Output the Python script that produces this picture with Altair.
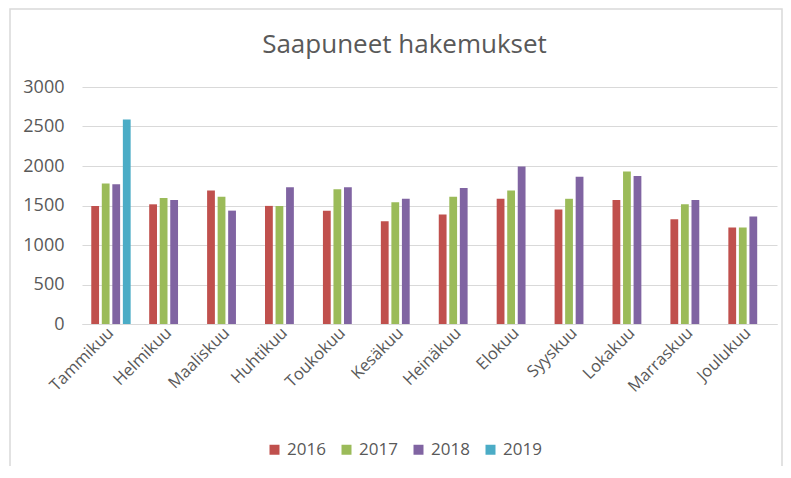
import altair as alt
import pandas as pd

months = ["Tammikuu", "Helmikuu", "Maaliskuu", "Huhtikuu", "Toukokuu", "Kesäkuu",
          "Heinäkuu", "Elokuu", "Syyskuu", "Lokakuu", "Marraskuu", "Joulukuu"]
years = ["2016", "2017", "2018", "2019"]
v2016 = [1495, 1515, 1690, 1495, 1435, 1300, 1385, 1585, 1450, 1570, 1325, 1220]
v2017 = [1780, 1595, 1610, 1495, 1705, 1540, 1610, 1690, 1585, 1930, 1515, 1220]
v2018 = [1770, 1570, 1435, 1730, 1730, 1585, 1720, 1995, 1865, 1875, 1570, 1360]
v2019 = [2590]  # only January

rows = []
for series, y in zip([v2016, v2017, v2018, v2019], years):
    for m, v in zip(months, series):
        rows.append({"Kuukausi": m, "Vuosi": y, "Hakemukset": v})
df = pd.DataFrame(rows)

colors = ["#C0504D", "#9BBB59", "#8064A2", "#4BACC6"]
FONT = "Open Sans"
GRAY = "#595959"

bars = alt.Chart(df).mark_bar().encode(
    x=alt.X("Kuukausi:N", sort=months, title=None,
            scale=alt.Scale(paddingInner=0.32, paddingOuter=0.16),
            axis=alt.Axis(labelAngle=-45, labelAlign="right", labelBaseline="middle",
                          labelFontSize=16.5, labelColor=GRAY, labelFont=FONT,
                          ticks=False, domainColor="#d9d9d9", labelPadding=6)),
    xOffset=alt.XOffset("Vuosi:N", scale=alt.Scale(domain=years, paddingInner=0.26, paddingOuter=0.0)),
    y=alt.Y("Hakemukset:Q", title=None,
            scale=alt.Scale(domain=[0, 3000]),
            axis=alt.Axis(values=[0, 500, 1000, 1500, 2000, 2500, 3000], format="d",
                          domain=False, ticks=False, labelFontSize=18, labelColor=GRAY,
                          labelFont=FONT, labelPadding=18, gridColor="#d9d9d9", gridWidth=1)),
    color=alt.Color("Vuosi:N", scale=alt.Scale(domain=years, range=colors),
                    legend=alt.Legend(title=None, orient="none", direction="horizontal",
                                      legendX=184, legendY=354, symbolType="square",
                                      symbolSize=100, symbolStrokeWidth=0,
                                      labelFontSize=17, labelColor=GRAY, labelFont=FONT,
                                      columnPadding=12, labelOffset=4)),
)

frame = alt.Chart(pd.DataFrame({"a": [0]})).mark_rect(
    fill=None, stroke="#d9d9d9", strokeWidth=1.5, clip=False
).encode(x=alt.value(-72), x2=alt.value(700), y=alt.value(-78), y2=alt.value(400))

chart = alt.layer(bars, frame).properties(
    width=695, height=237,
    padding={"left": 74, "top": 79, "right": 6, "bottom": 142},
    autosize="none",
    title=alt.TitleParams("Saapuneet hakemukset", fontSize=26, font=FONT, color=GRAY,
                          fontWeight="normal", anchor="middle", dx=-25, offset=-50),
).configure_view(stroke=None)

chart.save("out.html", embed_options={"renderer": "svg", "actions": False})
